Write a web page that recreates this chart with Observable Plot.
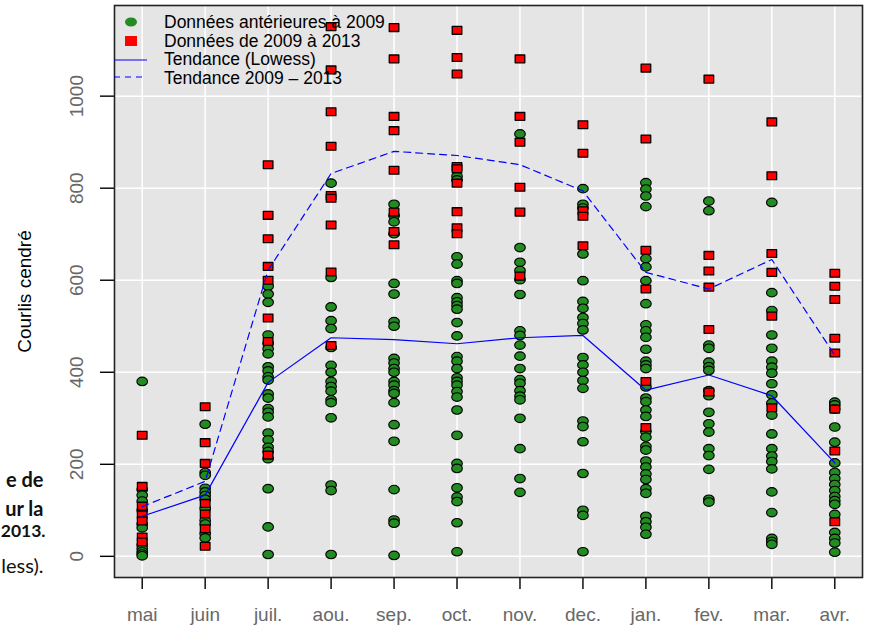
<!DOCTYPE html>
<html>
<head>
<meta charset="utf-8">
<script src="https://cdn.jsdelivr.net/npm/d3@7"></script>
<script src="https://cdn.jsdelivr.net/npm/@observablehq/plot@0.6"></script>
<style>
  html, body { margin: 0; padding: 0; background: white; }
  #wrap { position: relative; width: 871px; height: 625px; }
  #legend { position: absolute; left: 0; top: 0; pointer-events: none; }
</style>
</head>
<body>
<div id="wrap"></div>
<script>
// ---- data ----
const months = ["mai", "juin", "juil.", "aou.", "sep.", "oct.", "nov.", "dec.", "jan.", "fev.", "mar.", "avr."];

// Données antérieures à 2009 (green circles), one list per month
const anterieures = [
  [380, 145, 133, 120, 100, 70, 62, 25, 17, 10, 5, 1],
  [287, 182, 176, 148, 140, 132, 124, 104, 78, 70, 49, 40],
  [587, 570, 552, 481, 463, 451, 440, 412, 403, 390, 383, 353, 344, 321, 313, 303, 268, 253, 237, 228, 212, 147, 64, 4],
  [811, 606, 542, 512, 495, 454, 415, 400, 380, 369, 359, 340, 334, 301, 155, 143, 4],
  [765, 740, 727, 701, 593, 570, 510, 500, 430, 420, 408, 400, 380, 372, 360, 354, 334, 286, 250, 145, 79, 72, 2],
  [826, 818, 651, 635, 599, 593, 562, 553, 545, 537, 508, 479, 434, 424, 408, 388, 380, 372, 358, 346, 318, 263, 202, 191, 149, 129, 119, 73, 10],
  [918, 671, 639, 621, 601, 569, 490, 480, 459, 435, 408, 384, 376, 360, 348, 340, 300, 234, 169, 139],
  [799, 765, 757, 657, 599, 554, 539, 519, 506, 492, 432, 416, 400, 382, 365, 294, 282, 249, 180, 100, 89, 10],
  [812, 798, 783, 760, 647, 629, 599, 549, 503, 490, 476, 450, 424, 416, 408, 368, 344, 336, 318, 304, 271, 259, 239, 231, 207, 194, 179, 167, 147, 137, 87, 75, 63, 48],
  [772, 751, 459, 452, 422, 412, 404, 360, 349, 313, 288, 270, 234, 219, 189, 124, 118],
  [769, 573, 534, 481, 452, 424, 411, 398, 375, 351, 333, 307, 266, 234, 218, 206, 190, 140, 95, 39, 32, 26],
  [335, 329, 320, 281, 248, 203, 182, 169, 156, 143, 130, 121, 113, 91, 52, 39, 29, 9]
];

// Données de 2009 à 2013 (red squares), one list per month
const recentes = [
  [263, 152, 109, 90, 77, 42, 31],
  [325, 247, 202, 115, 92, 60, 22],
  [851, 741, 690, 630, 600, 518, 467, 220],
  [1151, 1057, 966, 891, 784, 778, 720, 618, 458],
  [1149, 1081, 956, 925, 839, 748, 706, 677],
  [1143, 1084, 1048, 847, 842, 811, 749, 714, 701],
  [1081, 956, 900, 802, 748, 609],
  [938, 876, 751, 739, 675],
  [1061, 907, 665, 581, 380, 280],
  [1037, 654, 620, 585, 493, 357],
  [944, 827, 658, 617, 522, 323],
  [615, 587, 558, 474, 442, 320, 229, 75]
];

const lowess = [87, 133, 378, 475, 471, 462, 475, 480, 361, 394, 349, 203];
const tendance0913 = [108, 163, 622, 832, 880, 871, 851, 794, 617, 581, 645, 437];

const yTicks = [0, 200, 400, 600, 800, 1000];
const yTitle = "Courlis cendré";
const legendLabels = ["Données antérieures à 2009", "Données de 2009 à 2013", "Tendance (Lowess)", "Tendance 2009 – 2013"];
const captionLines = ["e de", "ur la", "2013.", "less)."];

// ---- derived tables ----
const monthIdx = months.map((m, i) => i + 1);
const greenRows = anterieures.flatMap((vals, i) => vals.map(v => ({ month: i + 1, value: v })));
const redRows = recentes.flatMap((vals, i) => vals.map(v => ({ month: i + 1, value: v })));
const lowessRows = lowess.map((v, i) => ({ month: i + 1, value: v }));
const trendRows = tendance0913.map((v, i) => ({ month: i + 1, value: v }));

// ---- symbols (slightly flattened as in the reference) ----
const ellipseSymbol = {
  draw(ctx) {
    const k = 0.5523, a = 5.3, b = 4.3;
    ctx.moveTo(a, 0);
    ctx.bezierCurveTo(a, k * b, k * a, b, 0, b);
    ctx.bezierCurveTo(-k * a, b, -a, k * b, -a, 0);
    ctx.bezierCurveTo(-a, -k * b, -k * a, -b, 0, -b);
    ctx.bezierCurveTo(k * a, -b, a, -k * b, a, 0);
    ctx.closePath();
  }
};
const squareSymbol = {
  draw(ctx) { ctx.rect(-4.8, -3.9, 9.6, 7.8); }
};

const FONT = "'Liberation Sans', Arial, Helvetica, sans-serif";
const TICKGRAY = "#686868";

const chart = Plot.plot({
  width: 871,
  height: 625,
  marginLeft: 114,
  marginRight: 9,
  marginTop: 5,
  marginBottom: 48,
  x: { type: "linear", domain: [0.56, 12.44] },
  y: { domain: [-46, 1197] },
  style: { fontFamily: FONT, background: "white", overflow: "visible" },
  marks: [
    Plot.frame({ fill: "#e5e5e5", stroke: null }),
    Plot.gridX(monthIdx, { stroke: "white", strokeOpacity: 1, strokeWidth: 1.5 }),
    Plot.gridY(yTicks, { stroke: "white", strokeOpacity: 1, strokeWidth: 1.5 }),
    Plot.axisX(monthIdx, { tickSize: 12, tickFormat: () => "", strokeWidth: 1.4, label: null }),
    Plot.axisY(yTicks, { tickSize: 14, tickFormat: () => "", strokeWidth: 1.4, label: null }),
    Plot.text(months, { x: (d, i) => i + 1, text: d => d, frameAnchor: "bottom", dy: 43, lineAnchor: "bottom", fontSize: 19, fill: TICKGRAY }),
    Plot.text(yTicks, { y: d => d, text: d => String(d), frameAnchor: "left", dx: -32, rotate: -90, lineAnchor: "bottom", textAnchor: "middle", fontSize: 19, fill: TICKGRAY }),
    Plot.text([yTitle], { frameAnchor: "left", dx: -84, rotate: -90, lineAnchor: "bottom", textAnchor: "middle", fontSize: 19, fill: "black", text: d => d }),
    Plot.dot(greenRows, { x: "month", y: "value", symbol: ellipseSymbol, r: 5, fill: "#228B22", stroke: "black", strokeWidth: 1.1 }),
    Plot.dot(redRows, { x: "month", y: "value", symbol: squareSymbol, r: 5, fill: "#ff0000", stroke: "black", strokeWidth: 1.3, strokeLinejoin: "round" }),
    Plot.line(lowessRows, { x: "month", y: "value", stroke: "#0000ff", strokeWidth: 1.2 }),
    Plot.line(trendRows, { x: "month", y: "value", stroke: "#0000ff", strokeWidth: 1.2, strokeDasharray: "7,5" }),
    Plot.frame({ stroke: "#222", strokeWidth: 1.6 }),
    ...captionLines.map((t, i) => Plot.text([t], {
      text: d => d, frameAnchor: "top-left", dx: i === 2 ? -69 : -71, dy: [481, 510, 531, 567][i],
      textAnchor: "end", lineAnchor: "bottom", fontSize: i === 2 ? 17.5 : 20,
      fontFamily: "Lato, 'Open Sans', sans-serif", fontWeight: i < 3 ? "bold" : "normal", fill: "#111"
    }))
  ]
});

const wrap = document.getElementById("wrap");
wrap.appendChild(chart);

// ---- legend (inside the plot area, top-left, no box) ----
const lg = d3.select(wrap).append("svg").attr("id", "legend").attr("width", 871).attr("height", 100)
  .style("font-family", FONT);
lg.append("ellipse").attr("cx", 131).attr("cy", 22).attr("rx", 6).attr("ry", 4.6).attr("fill", "#228B22");
lg.append("rect").attr("x", 125).attr("y", 36).attr("width", 12).attr("height", 10).attr("fill", "#ff0000");
lg.append("line").attr("x1", 114).attr("x2", 147).attr("y1", 60).attr("y2", 60).attr("stroke", "#0000ff").attr("stroke-width", 1.2);
lg.append("line").attr("x1", 114).attr("x2", 147).attr("y1", 77).attr("y2", 77).attr("stroke", "#0000ff").attr("stroke-width", 1.2).attr("stroke-dasharray", "6,5");
const ly = [22, 40.5, 59, 77.5];
legendLabels.forEach((t, i) => {
  lg.append("text").attr("x", 164).attr("y", ly[i]).attr("dy", "0.35em")
    .attr("font-size", 17.5).attr("fill", "black").text(t);
});
</script>
</body>
</html>
